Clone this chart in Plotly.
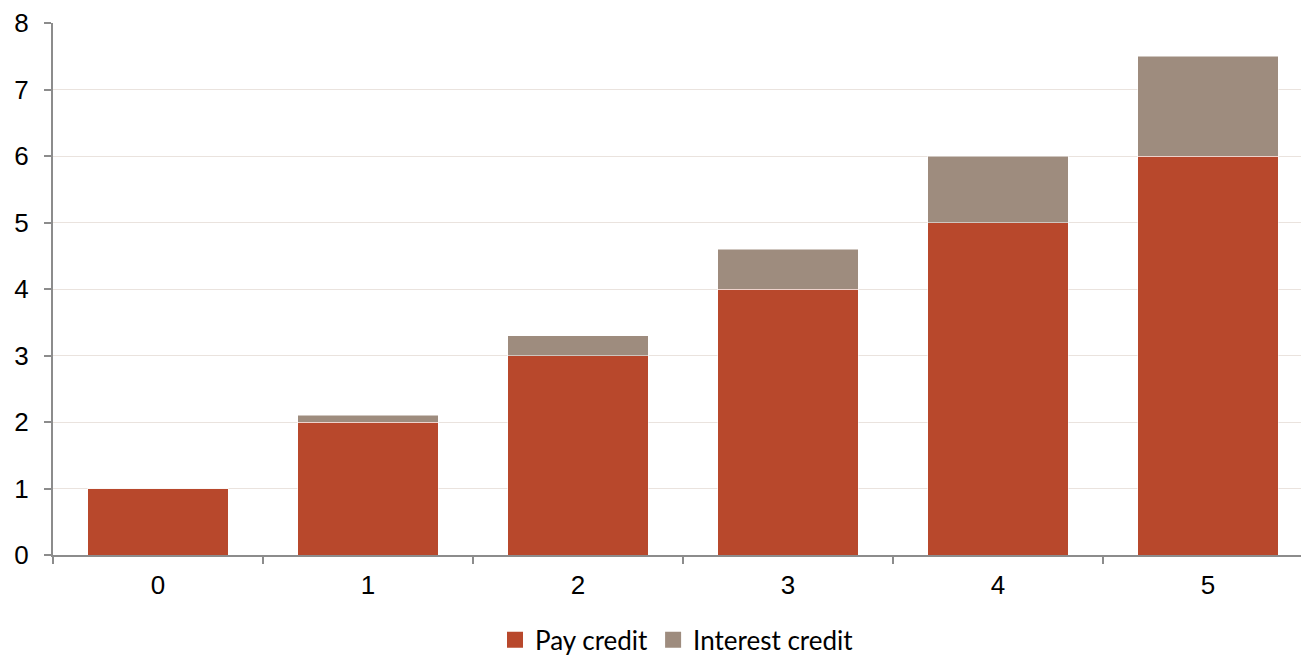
import plotly.graph_objects as go

categories = ["0", "1", "2", "3", "4", "5"]
pay_credit = [1, 2, 3, 4, 5, 6]
interest_credit = [0, 0.1, 0.3, 0.6, 1.0, 1.5]

series = [("Pay credit", pay_credit, "#B8482C"),
          ("Interest credit", interest_credit, "#9E8C7E")]

fig = go.Figure()
for name, vals, col in series:
    fig.add_trace(go.Bar(x=categories, y=vals, name=name, legendgroup=name, showlegend=False,
                         marker=dict(color=col, line=dict(width=1, color="rgba(255,255,255,0.5)"))))
for name, vals, col in series:
    # legend-only entry with a larger square swatch
    fig.add_trace(go.Scatter(x=[None], y=[None], mode="markers", name=name, legendgroup=name,
                             marker=dict(symbol="square", size=17, color=col)))

fig.update_layout(
    barmode="stack",
    bargap=0.333,
    width=1301, height=655,
    margin=dict(l=53, r=0, t=23, b=100, autoexpand=False),
    plot_bgcolor="white", paper_bgcolor="white",
    font=dict(family="Liberation Sans, Arial", size=24, color="#000000"),
    showlegend=True,
    legend=dict(orientation="h", x=0.5, xanchor="center", yref="container",
                y=0.023, yanchor="middle",
                font=dict(family="Lato, Noto Sans", size=26), traceorder="normal",
                itemwidth=30),
    xaxis=dict(type="category", range=[-0.5, 5.443], showline=True, linecolor="#8C8C8C",
               linewidth=2, ticks="outside", tickson="boundaries", ticklen=7,
               tickcolor="#8C8C8C", tickwidth=2, showgrid=False, fixedrange=True,
               ticklabelstandoff=6, tickfont=dict(size=26)),
    yaxis=dict(range=[0, 8], dtick=1, showline=True, linecolor="#8C8C8C", linewidth=2,
               ticks="outside", ticklen=7, tickcolor="#8C8C8C", tickwidth=2,
               gridcolor="#EAE3DE", gridwidth=1, zeroline=False,
               ticklabelstandoff=10, tickfont=dict(size=26)),
)

fig.write_html("out.html")
